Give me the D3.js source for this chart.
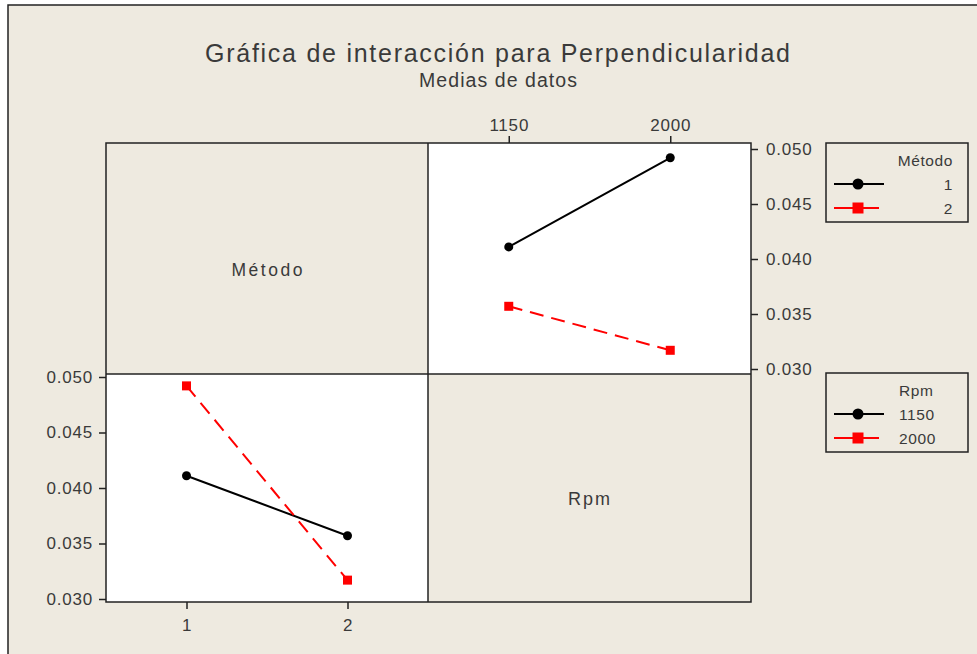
<!DOCTYPE html>
<html><head><meta charset="utf-8">
<script src="https://cdn.jsdelivr.net/npm/d3@7"></script>
<style>
html,body{margin:0;padding:0;background:#fff;}
svg{display:block;}
text{font-family:"Liberation Sans",Arial,sans-serif;fill:#3a3a3a;}
</style></head>
<body>
<svg id="chart" width="977" height="654"></svg>
<script>
// ---- data ----
const metodoLevels = ["1", "2"];
const rpmLevels = ["1150", "2000"];
// means: Método 1 / Método 2 at each Rpm
const metodo1Means = [0.0411, 0.0492];   // at Rpm 1150, 2000
const metodo2Means = [0.0357, 0.0317];   // at Rpm 1150, 2000
// means: Rpm 1150 / Rpm 2000 at each Método
const rpm1150Means = [0.0411, 0.0357];   // at Método 1, 2
const rpm2000Means = [0.0492, 0.0317];   // at Método 1, 2
const yTicks = [0.030, 0.035, 0.040, 0.045, 0.050];
const titleText = "Gráfica de interacción para Perpendicularidad";
const subtitleText = "Medias de datos";

const svg = d3.select("#chart");
const bg = "#eeeae0";

// outer frame
svg.append("rect").attr("x", 8).attr("y", 5).attr("width", 1000).attr("height", 700)
  .attr("fill", bg).attr("stroke", "#222").attr("stroke-width", 1.5);

// titles
svg.append("text").attr("x", 497.5).attr("y", 62).attr("text-anchor", "middle")
  .attr("font-size", 25).attr("textLength", 585).attr("lengthAdjust", "spacing").text(titleText);
svg.append("text").attr("x", 498).attr("y", 87).attr("text-anchor", "middle")
  .attr("font-size", 19.5).attr("textLength", 158).attr("lengthAdjust", "spacing").text(subtitleText);

// panel geometry
const L = 106, M = 428, R = 751, T = 143, Mid = 374, B = 602;

// panel backgrounds
svg.append("rect").attr("x", L).attr("y", T).attr("width", M - L).attr("height", Mid - T).attr("fill", bg);
svg.append("rect").attr("x", M).attr("y", T).attr("width", R - M).attr("height", Mid - T).attr("fill", "#fff");
svg.append("rect").attr("x", L).attr("y", Mid).attr("width", M - L).attr("height", B - Mid).attr("fill", "#fff");
svg.append("rect").attr("x", M).attr("y", Mid).attr("width", R - M).attr("height", B - Mid).attr("fill", bg);

// scales
const xTop = d3.scalePoint().domain(rpmLevels).range([M, R]).padding(0.5);
const yTop = d3.scaleLinear().domain([0.030, 0.050]).range([369, 149]);
const xBot = d3.scalePoint().domain(metodoLevels).range([L, M]).padding(0.5);
const yBot = d3.scaleLinear().domain([0.030, 0.050]).range([599, 377]);

function styleAxis(g) {
  g.select(".domain").remove();
  g.selectAll(".tick line").attr("stroke", "#222").attr("stroke-width", 1.5);
  g.selectAll(".tick text").attr("font-size", 17).attr("fill", "#3a3a3a")
    .attr("letter-spacing", "0.8px")
    .attr("font-family", '"Liberation Sans",Arial,sans-serif');
}

// axes
svg.append("g").attr("transform", `translate(${R},0)`)
  .call(d3.axisRight(yTop).tickValues(yTicks).tickFormat(d3.format(".3f")).tickSize(7).tickPadding(8))
  .call(styleAxis);
svg.append("g").attr("transform", `translate(0,${T})`)
  .call(d3.axisTop(xTop).tickSize(7).tickPadding(5))
  .call(styleAxis);
svg.append("g").attr("transform", `translate(${L},0)`)
  .call(d3.axisLeft(yBot).tickValues(yTicks).tickFormat(d3.format(".3f")).tickSize(7).tickPadding(6))
  .call(styleAxis);
svg.append("g").attr("transform", `translate(0,${B})`)
  .call(d3.axisBottom(xBot).tickSize(7).tickPadding(10))
  .call(styleAxis);

// series drawing
function drawSeries(xs, ys, cats, vals, kind) {
  const pts = cats.map((c, i) => [xs(c), ys(vals[i])]);
  const line = d3.line();
  const p = svg.append("path").attr("d", line(pts)).attr("fill", "none")
    .attr("stroke-width", 2);
  if (kind === "circle") {
    p.attr("stroke", "#000");
    svg.selectAll(null).data(pts).enter().append("circle")
      .attr("cx", d => d[0]).attr("cy", d => d[1]).attr("r", 4.5).attr("fill", "#000");
  } else {
    p.attr("stroke", "#ff0000").attr("stroke-dasharray", "14,8");
    svg.selectAll(null).data(pts).enter().append("rect")
      .attr("x", d => d[0] - 4.5).attr("y", d => d[1] - 4.5)
      .attr("width", 9).attr("height", 9).attr("fill", "#ff0000");
  }
}
drawSeries(xTop, yTop, rpmLevels, metodo1Means, "circle");
drawSeries(xTop, yTop, rpmLevels, metodo2Means, "square");
drawSeries(xBot, yBot, metodoLevels, rpm1150Means, "circle");
drawSeries(xBot, yBot, metodoLevels, rpm2000Means, "square");

// panel borders
const bStroke = "#222";
svg.append("rect").attr("x", L).attr("y", T).attr("width", R - L).attr("height", B - T)
  .attr("fill", "none").attr("stroke", bStroke).attr("stroke-width", 1.5);
svg.append("line").attr("x1", M).attr("x2", M).attr("y1", T).attr("y2", B)
  .attr("stroke", bStroke).attr("stroke-width", 1.5);
svg.append("line").attr("x1", L).attr("x2", R).attr("y1", Mid).attr("y2", Mid)
  .attr("stroke", bStroke).attr("stroke-width", 1.5);

// diagonal labels
svg.append("text").attr("x", 267).attr("y", 276).attr("text-anchor", "middle")
  .attr("font-size", 17.5).attr("textLength", 71).attr("lengthAdjust", "spacing").text("Método");
svg.append("text").attr("x", 589).attr("y", 505).attr("text-anchor", "middle")
  .attr("font-size", 18).attr("textLength", 42).attr("lengthAdjust", "spacing").text("Rpm");

// legends
function legend(y0, title, labels, anchor, tx) {
  const g = svg.append("g");
  g.append("rect").attr("x", 826).attr("y", y0).attr("width", 142).attr("height", 79)
    .attr("fill", bg).attr("stroke", "#222").attr("stroke-width", 1.5);
  g.append("text").attr("x", tx).attr("y", y0 + 23).attr("text-anchor", anchor)
    .attr("font-size", 15.5).attr("letter-spacing", "0.6px").text(title);
  labels.forEach((lab, i) => {
    const cy = y0 + 41 + i * 24;
    if (i === 0) {
      g.append("line").attr("x1", 834).attr("x2", 884).attr("y1", cy).attr("y2", cy)
        .attr("stroke", "#000").attr("stroke-width", 2);
      g.append("circle").attr("cx", 858).attr("cy", cy).attr("r", 5.5).attr("fill", "#000");
    } else {
      g.append("line").attr("x1", 834).attr("x2", 879).attr("y1", cy).attr("y2", cy)
        .attr("stroke", "#ff0000").attr("stroke-width", 2);
      g.append("rect").attr("x", 852.5).attr("y", cy - 5.5).attr("width", 11).attr("height", 11).attr("fill", "#ff0000");
    }
    g.append("text").attr("x", tx).attr("y", cy + 6).attr("text-anchor", anchor)
      .attr("font-size", 15.5).attr("letter-spacing", "0.6px").text(lab);
  });
}
legend(143, "Método", metodoLevels, "end", 953);
legend(373, "Rpm", rpmLevels, "start", 899);
</script>
</body></html>
